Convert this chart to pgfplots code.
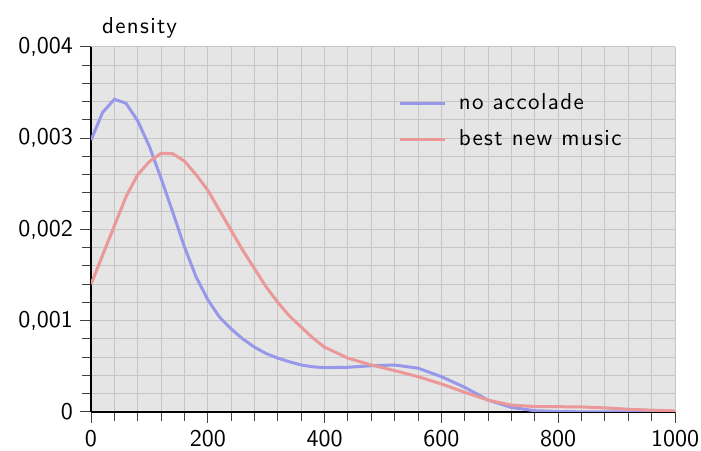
\documentclass[border=0pt]{standalone}
\usepackage{fontspec}
\newfontfamily\tickfont{lmsans10-regular.otf}
\newfontfamily\labfont{lmsans10-regular.otf}[LetterSpace=6]
\usepackage{pgfplots}
\pgfplotsset{compat=1.18}
\definecolor{bgc}{RGB}{229,229,229}
\definecolor{gridc}{RGB}{198,198,198}
\definecolor{bluec}{RGB}{152,152,234}
\definecolor{redc}{RGB}{234,152,152}
\begin{document}
\begin{tikzpicture}
\begin{axis}[
  scale only axis,
  width=292pt, height=182.5pt,
  xmin=0, xmax=1000, ymin=0, ymax=0.004,
  font=\fontsize{12}{14}\selectfont\tickfont,
  /pgf/number format/assume math mode=true,
  xtick={0,200,400,600,800,1000},
  ytick={0,0.001,0.002,0.003,0.004},
  minor x tick num=4, minor y tick num=4,
  scaled y ticks=false,
  yticklabel style={/pgf/number format/.cd, fixed, precision=3, use comma},
  xticklabel style={/pgf/number format/.cd, fixed, precision=0, 1000 sep={}},
  axis x line*=bottom, axis y line*=left,
  axis line style={-, black, line width=0.6pt},
  axis background/.style={fill=bgc},
  grid=both,
  major grid style={gridc, line width=0.5pt},
  minor grid style={gridc, line width=0.5pt},
  tick align=outside,
  tick style={black!75, line width=0.5pt},
  major tick length=5.5pt, minor tick length=4.5pt,
  ylabel={density},
  every axis y label/.style={at={(rel axis cs:0,1)}, anchor=base west, xshift=2pt, yshift=6.85pt, font=\fontsize{11.5}{13.5}\selectfont\labfont},
  legend style={draw=none, fill=none, at={(0.516,0.895)}, anchor=north west, row sep=4.5pt, font=\fontsize{11.5}{13.5}\selectfont\labfont, /tikz/every odd column/.append style={column sep=4pt}},
  legend cell align=left,
  legend image code/.code={\draw[#1] (0pt,0pt) -- (22.5pt,0pt);},
  every axis plot/.append style={line width=1.5pt, no marks},
]
\addplot[bluec] coordinates {
(0,0.00298) (20,0.003284) (40,0.003427) (60,0.003383) (80,0.00319) (100,0.00291)
(120,0.00256) (140,0.00219) (160,0.00181) (180,0.00148) (200,0.00123) (220,0.00104)
(240,0.00091) (260,0.0008) (280,0.00071) (300,0.00064) (320,0.00059) (340,0.00055)
(360,0.000515) (380,0.000495) (400,0.000486) (440,0.00049) (480,0.000507) (520,0.000515)
(560,0.00048) (600,0.000387) (640,0.00027) (680,0.00013) (720,0.00005) (760,0.000014)
(800,0.000005) (850,0.000001) (1000,0)
};
\addlegendentry{no accolade}
\addplot[redc] coordinates {
(0,0.0014) (20,0.00172) (40,0.00204) (60,0.00236) (80,0.0026) (100,0.002745)
(120,0.002835) (140,0.00283) (160,0.00275) (180,0.0026) (200,0.00243) (220,0.00221)
(240,0.00199) (260,0.00177) (280,0.00157) (300,0.00137) (320,0.0012) (340,0.00105)
(360,0.00093) (380,0.00081) (400,0.00071) (440,0.00059) (480,0.000515) (520,0.000453)
(560,0.000387) (600,0.000307) (640,0.000216) (680,0.00013) (720,0.000075) (760,0.00006)
(800,0.000058) (840,0.000055) (880,0.000045) (920,0.00003) (960,0.00002) (1000,0.000012)
};
\addlegendentry{best new music}
\end{axis}
\pgfresetboundingbox
\path ([shift={(-45.5pt,-19.5pt)}]current axis.south west) rectangle ([shift={(13pt,23.5pt)}]current axis.north east);
\end{tikzpicture}
\end{document}
